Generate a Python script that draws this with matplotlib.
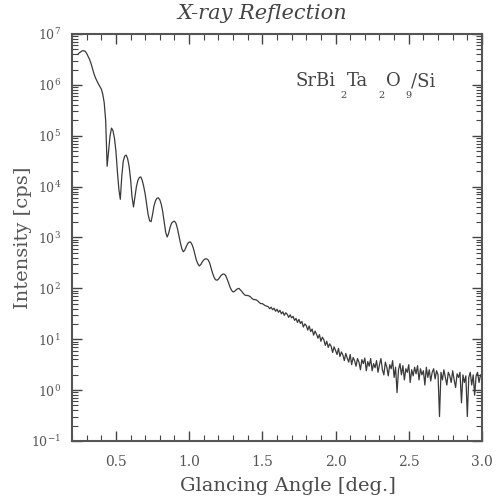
import numpy as np
import matplotlib
matplotlib.use("Agg")
import matplotlib.pyplot as plt
from matplotlib.ticker import MultipleLocator, LogLocator, LogFormatterMathtext, NullFormatter

plt.rcParams['font.family'] = ['DejaVu Serif']
plt.rcParams['mathtext.fontset'] = 'dejavuserif'

# glancing angle grid (deg), 0.01 step from 0.24 to 3.00
angle = np.round(np.arange(0.24, 3.0001, 0.01), 2)

# log10 of intensity [cps]
log_intensity = [
    6.60, 6.63, 6.65, 6.67, 6.67, 6.66, 6.62, 6.56, 6.50, 6.42,   # 0.24-0.33
    6.32, 6.22, 6.14, 6.08, 6.02, 5.97, 5.92, 5.82, 5.65, 5.30,   # 0.34-0.43
    4.40, 4.70, 5.00, 5.15, 5.10, 4.95, 4.70, 4.30, 3.95, 3.75,   # 0.44-0.53
    4.20, 4.50, 4.60, 4.62, 4.55, 4.40, 4.15, 3.80, 3.60, 3.80,   # 0.54-0.63
    4.00, 4.12, 4.18, 4.19, 4.12, 4.00, 3.85, 3.65, 3.45, 3.33,   # 0.64-0.73
    3.31, 3.45, 3.62, 3.72, 3.77, 3.78, 3.74, 3.65, 3.50, 3.30,   # 0.74-0.83
    3.10, 3.01, 3.08, 3.20, 3.28, 3.31, 3.32, 3.28, 3.18, 3.04,   # 0.84-0.93
    2.90, 2.78, 2.72, 2.75, 2.82, 2.88, 2.91, 2.91, 2.86, 2.78,   # 0.94-1.03
    2.66, 2.55, 2.48, 2.44, 2.47, 2.52, 2.56, 2.58, 2.58, 2.56,   # 1.04-1.13
    2.50, 2.40, 2.30, 2.22, 2.17, 2.16, 2.18, 2.22, 2.26, 2.28,   # 1.14-1.23
    2.28, 2.25, 2.18, 2.10, 2.02, 1.96, 1.93, 1.94, 1.97, 1.99,   # 1.24-1.33
    2.00, 1.97, 1.94, 1.90, 1.87, 1.86, 1.86, 1.85, 1.83, 1.80,   # 1.34-1.43
    1.78, 1.78, 1.77, 1.75, 1.72, 1.70, 1.70, 1.68, 1.66, 1.65,   # 1.44-1.53
    1.64, 1.60, 1.63, 1.58, 1.61, 1.55, 1.59, 1.53, 1.57, 1.50,   # 1.54-1.63
    1.54, 1.47, 1.52, 1.49, 1.43, 1.48, 1.42, 1.45, 1.37, 1.41,   # 1.64-1.73
    1.33, 1.39, 1.31, 1.35, 1.24, 1.30, 1.27, 1.18, 1.26, 1.15,   # 1.74-1.83
    1.20, 1.08, 1.16, 1.10, 1.02, 1.09, 0.96, 1.04, 0.99, 0.88,   # 1.84-1.93
    0.96, 0.84, 0.91, 0.86, 0.74, 0.85, 0.78, 0.70, 0.82, 0.66,   # 1.94-2.03
    0.75, 0.69, 0.58, 0.72, 0.63, 0.55, 0.70, 0.50, 0.64, 0.58,   # 2.04-2.13
    0.47, 0.62, 0.55, 0.40, 0.60, 0.52, 0.63, 0.38, 0.56, 0.47,   # 2.14-2.23
    0.62, 0.38, 0.52, 0.44, 0.58, 0.35, 0.50, 0.62, 0.40, 0.30,   # 2.24-2.33
    0.55, 0.45, 0.28, 0.50, 0.42, 0.58, 0.25, 0.45, -0.05, 0.40,  # 2.34-2.43
    0.52, 0.30, 0.48, 0.20, 0.42, 0.35, 0.50, 0.15, 0.40, 0.28,   # 2.44-2.53
    0.45, 0.32, 0.48, 0.20, 0.42, 0.30, 0.38, 0.10, 0.45, 0.25,   # 2.54-2.63
    0.40, 0.18, 0.35, 0.42, 0.22, 0.38, 0.30, -0.52, 0.35, 0.20,  # 2.64-2.73
    0.40, 0.25, 0.10, 0.35, 0.28, 0.15, 0.38, 0.20, 0.05, 0.32,   # 2.74-2.83
    0.25, 0.35, -0.25, 0.30, 0.15, 0.28, -0.52, 0.25, 0.35, 0.10, # 2.84-2.93
    0.30, -0.10, 0.28, 0.35, 0.15, 0.30, 0.25,                    # 2.94-3.00
]
intensity = 10.0 ** np.array(log_intensity)

fig = plt.figure(figsize=(5.01, 5.03), dpi=100)
ax = fig.add_axes([0.1437, 0.1233, 0.8183, 0.8091])

ax.plot(angle, intensity, color='#3a3a3a', linewidth=0.9)

ax.set_yscale('log')
ax.set_xlim(0.2, 3.0)
ax.set_ylim(1e-1, 1e7)

ax.xaxis.set_major_locator(MultipleLocator(0.5))
ax.xaxis.set_minor_locator(MultipleLocator(0.1))
ax.xaxis.set_major_formatter(plt.FuncFormatter(lambda v, p: f"{v:.1f}"))
ax.yaxis.set_major_locator(LogLocator(base=10, numticks=20))
ax.yaxis.set_minor_locator(LogLocator(base=10, subs=np.arange(2, 10), numticks=20))
ax.yaxis.set_major_formatter(LogFormatterMathtext())
ax.yaxis.set_minor_formatter(NullFormatter())

ax.tick_params(which='both', direction='in', top=True, right=True, colors='#444444',
               labelcolor='#555555')
ax.tick_params(axis='x', labelsize=10, pad=10)
ax.tick_params(axis='y', labelsize=9, pad=8)
ax.tick_params(which='major', length=7, width=1.0)
ax.tick_params(which='minor', length=4, width=0.8)
for s in ax.spines.values():
    s.set_linewidth(1.5)
    s.set_color('#555555')

ax.set_title("X-ray Reflection", style='italic', fontsize=15, color='#444444', pad=11, x=0.465)
ax.set_xlabel("Glancing Angle [deg.]", fontsize=14, color='#4a4a4a')
ax.xaxis.set_label_coords(0.527, -0.088)
ax.set_ylabel("Intensity [cps]", fontsize=14, color='#555555')
ax.yaxis.set_label_coords(-0.097, 0.5)

# sample label, subscripts dropped well below the line as in the original
tkw = dict(transform=ax.transAxes, color='#444444', va='center')
ax.text(0.544, 0.8845, "SrBi", ha='left', fontsize=13, **tkw)
ax.text(0.663, 0.8477, "2", ha='center', fontsize=7, **tkw)
ax.text(0.670, 0.8845, "Ta", ha='left', fontsize=13, **tkw)
ax.text(0.756, 0.8477, "2", ha='center', fontsize=7, **tkw)
ax.text(0.765, 0.8845, "O", ha='left', fontsize=13, **tkw)
ax.text(0.820, 0.8477, "9", ha='center', fontsize=7, **tkw)
ax.text(0.827, 0.8845, "/Si", ha='left', fontsize=13, **tkw)

fig.savefig("out.png", dpi=100)
